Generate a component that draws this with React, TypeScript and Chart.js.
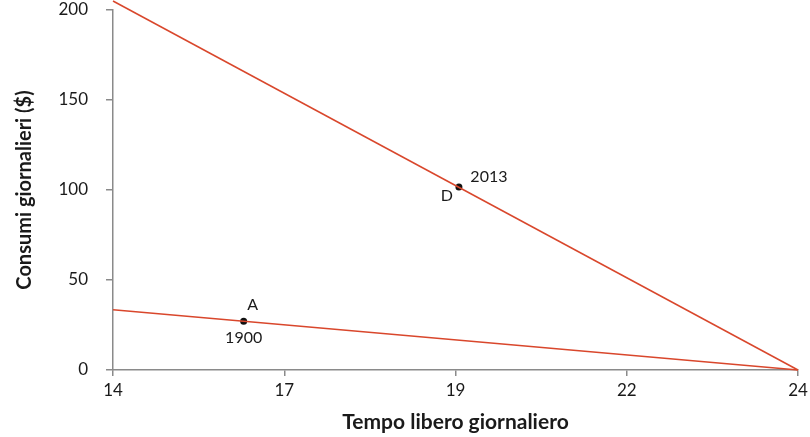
import Chart from "chart.js/auto";
import type { Plugin } from "chart.js";
import { useEffect, useRef } from "react";

// x positions are evenly spaced tick slots (14, 17, 19, 22, 24 sit at equal distances)
const xTickLabels = ["14", "17", "19", "22", "24"];
const yTicks = [0, 50, 100, 150, 200];

const lineX = [0, 4];
const budget2013 = [205, 0];
const budget1900 = [33.5, 0];

const pointNames = ["A", "D"];
const pointYears = ["1900", "2013"];
const pointX = [0.763, 2.02];
const pointY = [27.1, 101.7];

const red = "#d9472c";
const axisGrey = "#8a8a8a";
const textColor = "#1a1a1a";
const fontFamily = "Lato, 'Open Sans', sans-serif";

// offsets (px) of name / year labels relative to their point
const nameOffsets = [
  [9, -16],
  [-12, 9]
];
const yearOffsets = [
  [0, 17],
  [30, -10]
];

const pointLabels: Plugin<"scatter"> = {
  id: "pointLabels",
  afterDatasetsDraw(chart) {
    const { ctx, scales } = chart;
    ctx.save();
    ctx.fillStyle = textColor;
    ctx.font = `16px ${fontFamily}`;
    ctx.textAlign = "center";
    ctx.textBaseline = "middle";
    pointNames.forEach((name, i) => {
      const px = scales.x.getPixelForValue(pointX[i]);
      const py = scales.y.getPixelForValue(pointY[i]);
      ctx.fillText(name, px + nameOffsets[i][0], py + nameOffsets[i][1]);
      ctx.fillText(pointYears[i], px + yearOffsets[i][0], py + yearOffsets[i][1]);
    });
    ctx.restore();
  }
};

export default function App() {
  const canvasRef = useRef<HTMLCanvasElement | null>(null);

  useEffect(() => {
    const canvas = canvasRef.current;
    if (!canvas) return;

    const chart = new Chart(canvas, {
      type: "scatter",
      data: {
        datasets: [
          {
            label: "2013",
            data: lineX.map((x, i) => ({ x, y: budget2013[i] })),
            showLine: true,
            borderColor: red,
            borderWidth: 1.5,
            pointRadius: 0,
            clip: false
          },
          {
            label: "1900",
            data: lineX.map((x, i) => ({ x, y: budget1900[i] })),
            showLine: true,
            borderColor: red,
            borderWidth: 1.5,
            pointRadius: 0,
            clip: false
          },
          {
            label: "points",
            data: pointX.map((x, i) => ({ x, y: pointY[i] })),
            pointRadius: 3.5,
            pointBackgroundColor: "#111",
            pointBorderWidth: 0,
            clip: false
          }
        ]
      },
      options: {
        responsive: true,
        maintainAspectRatio: false,
        animation: false,
        layout: {
          autoPadding: false,
          padding: { top: 10, right: 12, bottom: 0, left: 0 }
        },
        plugins: {
          legend: { display: false },
          tooltip: { enabled: false }
        },
        scales: {
          x: {
            type: "linear",
            min: 0,
            max: 4,
            afterFit: (scale) => {
              scale.height = 67;
              scale.paddingLeft = 0;
              scale.paddingRight = 0;
            },
            afterBuildTicks: (scale) => {
              scale.ticks = xTickLabels.map((_, i) => ({ value: i }));
            },
            ticks: {
              callback: (value) => xTickLabels[Number(value)] ?? "",
              color: textColor,
              padding: 4,
              maxRotation: 0,
              font: { family: fontFamily, size: 17 }
            },
            grid: {
              drawOnChartArea: false,
              drawTicks: true,
              tickLength: 6,
              color: axisGrey,
              lineWidth: 1.5
            },
            border: { display: true, color: axisGrey, width: 1.5 },
            title: {
              display: true,
              text: "Tempo libero giornaliero",
              color: textColor,
              padding: { top: 0, bottom: 2 },
              font: { family: fontFamily, size: 21, weight: "bold" }
            }
          },
          y: {
            type: "linear",
            min: 0,
            max: 200,
            afterFit: (scale) => {
              scale.width = 113;
              scale.paddingTop = 0;
              scale.paddingBottom = 0;
            },
            afterBuildTicks: (scale) => {
              scale.ticks = yTicks.map((value) => ({ value }));
            },
            ticks: {
              color: textColor,
              padding: 18,
              font: { family: fontFamily, size: 17 }
            },
            grid: {
              drawOnChartArea: false,
              drawTicks: true,
              tickLength: 7,
              color: axisGrey,
              lineWidth: 1.5
            },
            border: { display: true, color: axisGrey, width: 1.5 },
            title: {
              display: true,
              text: "Consumi giornalieri ($)",
              color: textColor,
              padding: { top: 13, bottom: 0 },
              font: { family: fontFamily, size: 20, weight: "bold" }
            }
          }
        }
      },
      plugins: [pointLabels]
    });

    return () => chart.destroy();
  }, []);

  return (
    <div style={{ position: "fixed", left: 0, top: 0, width: 810, height: 437, background: "#fff" }}>
      <canvas ref={canvasRef} aria-label="Consumi e tempo libero giornalieri" role="img" />
    </div>
  );
}
